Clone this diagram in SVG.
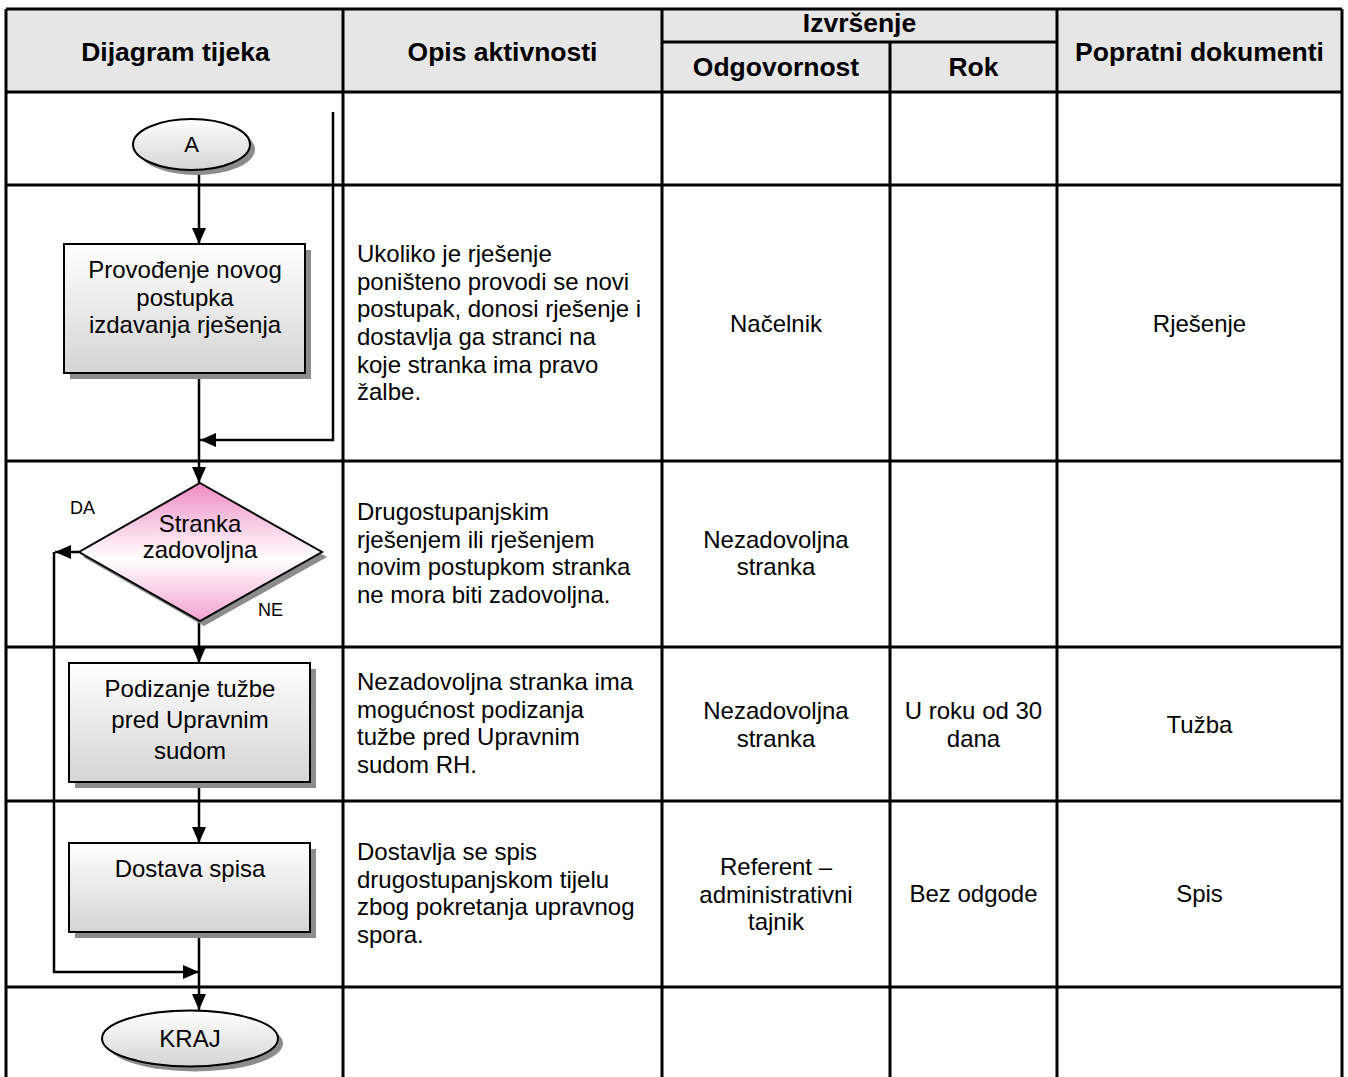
<svg xmlns="http://www.w3.org/2000/svg" width="1348" height="1077" viewBox="0 0 1348 1077">
<defs>
<linearGradient id="gGray" x1="0" y1="0" x2="0" y2="1">
<stop offset="0" stop-color="#ffffff"/>
<stop offset="1" stop-color="#d4d4d4"/>
</linearGradient>
<linearGradient id="gPink" x1="0" y1="0" x2="0" y2="1">
<stop offset="0" stop-color="#f08cc2"/>
<stop offset="0.55" stop-color="#ffffff"/>
<stop offset="1" stop-color="#f3a2cf"/>
</linearGradient>
<marker id="arr" markerUnits="userSpaceOnUse" viewBox="0 0 16 14" refX="16" refY="7" markerWidth="16" markerHeight="14" orient="auto">
<path d="M0,0 L16,7 L0,14 z" fill="#000"/>
</marker>
<style>
.grid{stroke:#000;stroke-width:3;fill:none}
.hdr{font-family:"Liberation Sans",Arial,sans-serif;font-weight:bold;font-size:26.5px;fill:#000;text-anchor:middle}
.t{font-family:"Liberation Sans",Arial,sans-serif;font-size:24px;fill:#000}
.c{text-anchor:middle}
.lbl{font-family:"Liberation Sans",Arial,sans-serif;font-size:18px;fill:#000}
.shape{stroke:#000;stroke-width:2}
.shadow{fill:#8c8c8c}
.con{stroke:#000;stroke-width:2.5;fill:none;marker-end:url(#arr)}
</style>
</defs>
<rect width="1348" height="1077" fill="#fff"/>
<g id="table">
<rect x="6" y="9" width="1336" height="83" fill="#e6e6e6"/>
<path class="grid" d="M6,9 H1342 M6,92 H1342 M6,185 H1342 M6,461 H1342 M6,647 H1342 M6,801 H1342 M6,987 H1342 M662,42 H1057 M6,9 V1077 M1342,9 V1077 M343,9 V1077 M662,9 V1077 M890,42 V1077 M1057,9 V1077"/>
<text class="hdr" x="175.5" y="61">Dijagram tijeka</text>
<text class="hdr" x="502.5" y="61">Opis aktivnosti</text>
<text class="hdr" x="859.5" y="32">Izvršenje</text>
<text class="hdr" x="776" y="76">Odgovornost</text>
<text class="hdr" x="973.5" y="76">Rok</text>
<text class="hdr" x="1199.5" y="61">Popratni dokumenti</text>
</g>
<g id="cells">
<text class="t"><tspan x="357" y="262">Ukoliko je rješenje</tspan><tspan x="357" y="290">poništeno provodi se novi</tspan><tspan x="357" y="317">postupak, donosi rješenje i</tspan><tspan x="357" y="345">dostavlja ga stranci na</tspan><tspan x="357" y="373">koje stranka ima pravo</tspan><tspan x="357" y="400">žalbe.</tspan></text>
<text class="t c" x="776" y="332">Načelnik</text>
<text class="t c" x="1199.5" y="332">Rješenje</text>
<text class="t"><tspan x="357" y="520">Drugostupanjskim</tspan><tspan x="357" y="548">rješenjem ili rješenjem</tspan><tspan x="357" y="575">novim postupkom stranka</tspan><tspan x="357" y="603">ne mora biti zadovoljna.</tspan></text>
<text class="t c"><tspan x="776" y="548">Nezadovoljna</tspan><tspan x="776" y="575">stranka</tspan></text>
<text class="t"><tspan x="357" y="690">Nezadovoljna stranka ima</tspan><tspan x="357" y="718">mogućnost podizanja</tspan><tspan x="357" y="745">tužbe pred Upravnim</tspan><tspan x="357" y="773">sudom RH.</tspan></text>
<text class="t c"><tspan x="776" y="719">Nezadovoljna</tspan><tspan x="776" y="747">stranka</tspan></text>
<text class="t c"><tspan x="973.5" y="719">U roku od 30</tspan><tspan x="973.5" y="747">dana</tspan></text>
<text class="t c" x="1199.5" y="733">Tužba</text>
<text class="t"><tspan x="357" y="860">Dostavlja se spis</tspan><tspan x="357" y="888">drugostupanjskom tijelu</tspan><tspan x="357" y="915">zbog pokretanja upravnog</tspan><tspan x="357" y="943">spora.</tspan></text>
<text class="t c"><tspan x="776" y="875">Referent –</tspan><tspan x="776" y="903">administrativni</tspan><tspan x="776" y="930">tajnik</tspan></text>
<text class="t c" x="973.5" y="902">Bez odgode</text>
<text class="t c" x="1199.5" y="902">Spis</text>
</g>
<g id="connectors">
<path class="con" d="M199,170 V244"/>
<path class="con" d="M199,373 V483"/>
<path class="con" d="M333,112 V440 H200"/>
<path class="con" d="M79,552 H55"/>
<path class="con" d="M54,552 V972 H199"/>
<path class="con" d="M199,621 V663"/>
<path class="con" d="M199,782 V843"/>
<path class="con" d="M199,932 V1010"/>
<text class="lbl" x="70" y="514">DA</text>
<text class="lbl" x="258" y="616">NE</text>
</g>
<g id="node-A">
<ellipse class="shadow" cx="196.5" cy="149.5" rx="58.5" ry="25.5"/>
<ellipse class="shape" cx="191.5" cy="144.5" rx="58.5" ry="25.5" fill="url(#gGray)"/>
<text class="t c" x="191.5" y="152" style="font-size:22px">A</text>
</g>
<g id="node-provodjenje">
<rect class="shadow" x="70" y="250" width="241" height="129"/>
<rect class="shape" x="64" y="244" width="241" height="129" fill="url(#gGray)"/>
<text class="t c"><tspan x="185" y="278">Provođenje novog</tspan><tspan x="185" y="306">postupka</tspan><tspan x="185" y="333">izdavanja rješenja</tspan></text>
</g>
<g id="node-stranka">
<polygon class="shadow" points="204,488 327,557 204,626 83,557"/>
<polygon class="shape" points="200,483 322,552 200,621 79,552" fill="url(#gPink)"/>
<text class="t c"><tspan x="200" y="532">Stranka</tspan><tspan x="200" y="558">zadovoljna</tspan></text>
</g>
<g id="node-tuzba">
<rect class="shadow" x="75" y="669" width="241" height="119"/>
<rect class="shape" x="69" y="663" width="241" height="119" fill="url(#gGray)"/>
<text class="t c"><tspan x="190" y="697">Podizanje tužbe</tspan><tspan x="190" y="728">pred Upravnim</tspan><tspan x="190" y="759">sudom</tspan></text>
</g>
<g id="node-dostava">
<rect class="shadow" x="75" y="849" width="241" height="89"/>
<rect class="shape" x="69" y="843" width="241" height="89" fill="url(#gGray)"/>
<text class="t c" x="190" y="877">Dostava spisa</text>
</g>
<g id="node-kraj">
<ellipse class="shadow" cx="195" cy="1043.5" rx="88" ry="28"/>
<ellipse class="shape" cx="190" cy="1038.5" rx="88" ry="28" fill="url(#gGray)"/>
<text class="t c" x="190" y="1047">KRAJ</text>
</g>
</svg>
